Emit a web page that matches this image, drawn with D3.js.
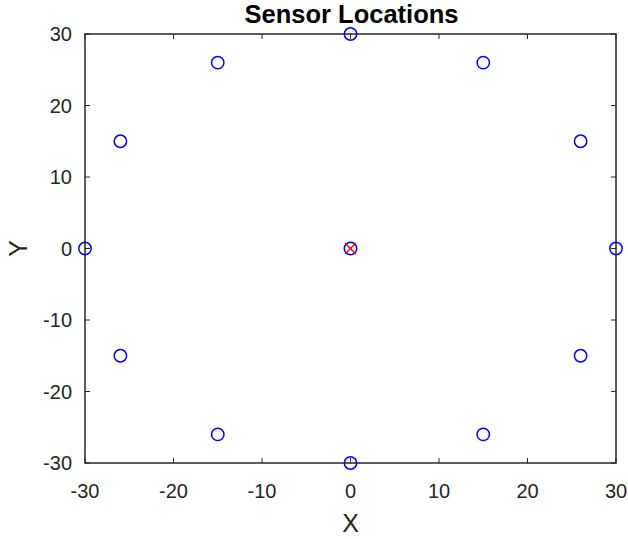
<!DOCTYPE html>
<html><head><meta charset="utf-8">
<script src="https://cdn.jsdelivr.net/npm/d3@7"></script>
<style>body{margin:0;background:#fff}svg{display:block}</style>
</head><body>
<script>
const sensorX = [30, 26, 15, 0, -15, -26, -30, -26, -15, 0, 15, 26, 0];
const sensorY = [0, 15, 26, 30, 26, 15, 0, -15, -26, -30, -26, -15, 0];
const targetX = [0];
const targetY = [0];
const xTicks = [-30, -20, -10, 0, 10, 20, 30];
const yTicks = [-30, -20, -10, 0, 10, 20, 30];

const W = 628, H = 539;
const L = 85, R = 616, T = 34, B = 463;
const svg = d3.select("body").append("svg").attr("width", W).attr("height", H);
const x = d3.scaleLinear().domain([-30, 30]).range([L, R]);
const y = d3.scaleLinear().domain([-30, 30]).range([B, T]);
const ac = "#262626";
const font = "Liberation Sans, Arial, sans-serif";

// ticks inward on all sides
const tl = 5;
const g = svg.append("g").attr("stroke", ac).attr("stroke-width", 1);
xTicks.forEach(v => {
  g.append("line").attr("x1", x(v)).attr("x2", x(v)).attr("y1", B).attr("y2", B - tl);
  g.append("line").attr("x1", x(v)).attr("x2", x(v)).attr("y1", T).attr("y2", T + tl);
});
yTicks.forEach(v => {
  g.append("line").attr("y1", y(v)).attr("y2", y(v)).attr("x1", L).attr("x2", L + tl);
  g.append("line").attr("y1", y(v)).attr("y2", y(v)).attr("x1", R).attr("x2", R - tl);
});
svg.append("rect").attr("x", L).attr("y", T).attr("width", R - L).attr("height", B - T)
  .attr("fill", "none").attr("stroke", ac).attr("stroke-width", 1.5);

// tick labels
svg.append("g").selectAll("text").data(xTicks).join("text")
  .attr("x", d => x(d)).attr("y", 498).attr("text-anchor", "middle")
  .attr("font-family", font).attr("font-size", 20).attr("fill", ac).text(d => d);
svg.append("g").selectAll("text").data(yTicks).join("text")
  .attr("x", L - 13).attr("y", d => y(d) + 7).attr("text-anchor", "end")
  .attr("font-family", font).attr("font-size", 20).attr("fill", ac).text(d => d);

// axis labels & title
svg.append("text").attr("x", (L + R) / 2).attr("y", 532).attr("text-anchor", "middle")
  .attr("font-family", font).attr("font-size", 25).attr("fill", ac).text("X");
svg.append("text").attr("transform", `translate(27,${(T + B) / 2}) rotate(-90)`)
  .attr("text-anchor", "middle").attr("font-family", font).attr("font-size", 25).attr("fill", ac).text("Y");
svg.append("text").attr("x", (L + R) / 2 + 1).attr("y", 23).attr("text-anchor", "middle")
  .attr("font-family", font).attr("font-size", 25.5).attr("font-weight", "bold").attr("fill", "#000").text("Sensor Locations");

// sensors
svg.append("g").selectAll("circle").data(sensorX.map((v, i) => [v, sensorY[i]])).join("circle")
  .attr("cx", d => x(d[0])).attr("cy", d => y(d[1])).attr("r", 6.2)
  .attr("fill", "none").attr("stroke", "#0000ff").attr("stroke-width", 1.5);

// target X marks
const s = 5.5;
const tg = svg.append("g").attr("stroke", "#ff0000").attr("stroke-width", 1.5);
targetX.forEach((v, i) => {
  const cx = x(v), cy = y(targetY[i]);
  tg.append("line").attr("x1", cx - s).attr("y1", cy - s).attr("x2", cx + s).attr("y2", cy + s);
  tg.append("line").attr("x1", cx - s).attr("y1", cy + s).attr("x2", cx + s).attr("y2", cy - s);
});
</script>
</body></html>
